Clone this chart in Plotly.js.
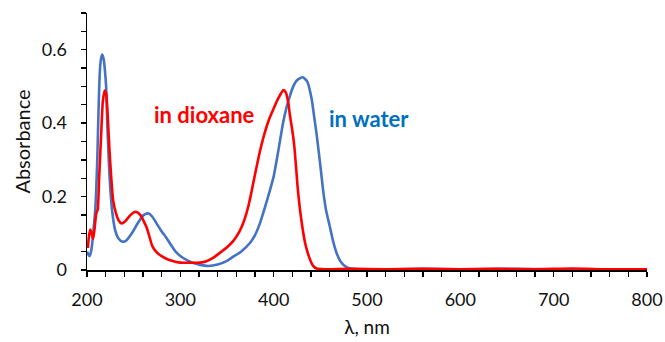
<!DOCTYPE html>
<html>
<head>
<meta charset="utf-8">
<script src="https://cdn.plot.ly/plotly-3.0.1.min.js"></script>
<style>html,body{margin:0;padding:0;background:#fff;}#chart{width:665px;height:342px;}</style>
</head>
<body>
<div id="chart"></div>
<script>
// Water spectrum (blue)
const waterNm = [200,202,203,205,207,209,211,212,213,214,215,216.4,218,219.5,220.5,222,223.5,225,227,230,234,238,242,248,255,261,266,270,275,280,285,290,295,300,307,315,321,330,340,350,356,365,375,380,385,390,396,400,405,410,414,417.5,421,425,431,436,440.7,443,446,450,453,456,460,464,468,472,478,485,500,530,560,600,650,700,750,800];
const waterAbs = [0.05,0.04,0.038,0.06,0.11,0.17,0.30,0.40,0.49,0.55,0.575,0.587,0.572,0.535,0.50,0.38,0.29,0.22,0.16,0.11,0.085,0.077,0.08,0.10,0.13,0.15,0.154,0.145,0.125,0.105,0.088,0.068,0.05,0.038,0.027,0.018,0.014,0.011,0.015,0.025,0.035,0.05,0.075,0.095,0.125,0.165,0.217,0.255,0.325,0.40,0.445,0.475,0.50,0.517,0.525,0.513,0.466,0.425,0.37,0.285,0.217,0.165,0.12,0.075,0.042,0.022,0.008,0.003,0.002,0.002,0.003,0.002,0.003,0.002,0.002,0.002];

// Dioxane spectrum (red)
const dioxNm = [201,202,203.5,205,206.5,208,210,211.5,213,215,217,219,220.5,222,224,226,228,231,234,237,241,246,250,253,257,261,264,267,270,274,278,284,290,300,310,321,328,335,342,350,357,363,368,373,376,380,385,390,395,400,405,410.5,413,415.5,417.5,420,422,424,426,430,434,438,442,446,455,480,520,560,600,640,680,720,760,800];
const dioxAbs = [0.06,0.09,0.11,0.10,0.085,0.11,0.155,0.165,0.25,0.36,0.46,0.489,0.48,0.43,0.33,0.25,0.19,0.155,0.135,0.127,0.133,0.148,0.157,0.158,0.15,0.132,0.115,0.09,0.065,0.05,0.041,0.032,0.026,0.02,0.02,0.02,0.024,0.033,0.046,0.062,0.08,0.103,0.132,0.175,0.21,0.26,0.32,0.37,0.41,0.44,0.468,0.49,0.484,0.458,0.42,0.38,0.34,0.28,0.217,0.13,0.07,0.035,0.012,0.004,0.002,0.003,0.002,0.003,0.002,0.003,0.002,0.004,0.002,0.002];

const xTickVals = [200,300,400,500,600,700,800];
const yTickVals = [0,0.2,0.4,0.6];

const labels = [
  {text:'in dioxane', x:326, y:0.424, color:'#FF0000'},
  {text:'in water', x:502, y:0.413, color:'#0070C0'}
];

const traces = [
  {x:waterNm, y:waterAbs, type:'scatter', mode:'lines', line:{color:'#4472C4', width:2.6, shape:'spline', smoothing:0.6}, hoverinfo:'skip'},
  {x:dioxNm, y:dioxAbs, type:'scatter', mode:'lines', line:{color:'#FF0000', width:2.6, shape:'spline', smoothing:0.6}, hoverinfo:'skip'}
];

const fontFam = 'Lato, "Open Sans", sans-serif';
const layout = {
  width:665, height:342,
  margin:{l:87, r:18, t:13, b:72},
  paper_bgcolor:'#fff', plot_bgcolor:'#fff',
  showlegend:false,
  font:{family:fontFam, size:18, color:'#111'},
  xaxis:{
    range:[200,800], tickvals:xTickVals, ticks:'outside', ticklen:5, tickwidth:1.3, tickcolor:'#000',
    showline:true, linecolor:'#000', linewidth:1.5, showgrid:false, zeroline:false,
    ticklabelstandoff:8,
    minor:{dtick:20, ticks:'outside', ticklen:5, tickwidth:1.3, tickcolor:'#000', showgrid:false},
    title:{text:'λ, nm', font:{family:fontFam, size:19, color:'#111'}, standoff:11}
  },
  yaxis:{
    range:[0,0.7], tickvals:yTickVals, ticks:'outside', ticklen:5, tickwidth:1.3, tickcolor:'#000',
    showline:true, linecolor:'#000', linewidth:1.5, showgrid:false, zeroline:false,
    ticklabelstandoff:10,
    minor:{dtick:0.05, ticks:'outside', ticklen:5, tickwidth:1.3, tickcolor:'#000', showgrid:false},
    title:{text:'Absorbance', font:{family:fontFam, size:20, color:'#111'}, standoff:6}
  },
  annotations: labels.map(l => ({
    text:'<b>'+l.text+'</b>', x:l.x, y:l.y, xref:'x', yref:'y', showarrow:false,
    xanchor:'center', yanchor:'middle', font:{family:fontFam, size:22, color:l.color}
  }))
};

Plotly.newPlot('chart', traces, layout, {staticPlot:true, displayModeBar:false});
</script>
</body>
</html>
